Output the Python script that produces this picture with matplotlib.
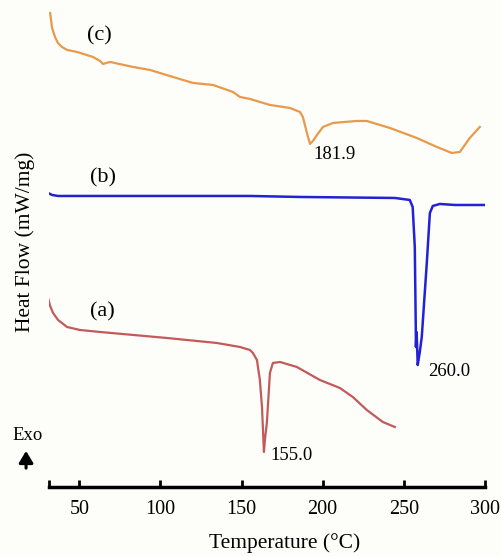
import matplotlib
matplotlib.use("Agg")
import matplotlib.pyplot as plt

plt.rcParams['font.family'] = ['Liberation Serif', 'DejaVu Serif']

# DSC curves, heat flow in arbitrary offset units
temp_c = [32.0, 33.2, 35.0, 36.8, 39.3, 42.4, 48.6, 58.4, 62.8, 64.6, 68.9, 83.1,
          93.6, 107.7, 120.1, 132.4, 144.7, 149.0, 155.2, 167.5, 179.8, 186.0,
          187.8, 190.3, 192.2, 194.0, 196.5, 200.2, 206.4, 221.1, 227.2, 241.4,
          258.0, 270.4, 279.6, 284.6, 290.7, 296.9]
flow_c = [47.4, 45.9, 45.0, 44.4, 44.0, 43.7, 43.5, 43.0, 42.6, 42.3, 42.5, 42.0,
          41.7, 41.0, 40.4, 40.2, 39.5, 39.0, 38.8, 38.2, 37.9, 37.5,
          37.0, 35.4, 34.3, 34.6, 35.2, 36.0, 36.4, 36.6, 36.6, 35.9,
          34.9, 34.0, 33.4, 33.5, 34.9, 36.0]

temp_b = [30.7, 33.2, 36.9, 62.8, 155.2, 186.0, 244.5, 253.7, 255.5, 256.8,
          257.4, 257.5, 257.9, 258.2, 258.6, 259.8, 261.1, 264.2, 266.1, 267.9,
          272.2, 281.5, 300.0]
flow_b = [29.4, 29.2, 29.1, 29.1, 29.1, 29.0, 28.9, 28.7, 28.0, 24.0,
          16.0, 14.0, 15.5, 14.2, 12.2, 13.4, 15.0, 22.4, 27.4, 28.1,
          28.3, 28.2, 28.2]

temp_a = [30.7, 32.0, 33.8, 36.9, 42.4, 50.4, 62.8, 104.0, 134.8, 149.0, 155.2,
          157.0, 159.5, 160.1, 161.3, 162.6, 163.8, 164.4, 165.6, 167.5, 169.3,
          173.7, 184.1, 198.3, 210.6, 218.6, 227.2, 237.1, 244.5]
flow_a = [18.9, 18.1, 17.4, 16.7, 16.0, 15.7, 15.5, 14.9, 14.4, 14.0, 13.7,
          13.4, 12.7, 12.0, 10.7, 8.0, 3.5, 4.7, 6.4, 11.4, 12.4,
          12.5, 12.0, 10.7, 9.9, 9.0, 7.7, 6.5, 6.0]

peak_labels = ['181.9', '260.0', '155.0']
curve_labels = ['(c)', '(b)', '(a)']
xticks = [50, 100, 150, 200, 250, 300]

fig = plt.figure(figsize=(5.01, 5.56), dpi=100)
fig.patch.set_facecolor('#fdfdf9')
ax = fig.add_axes([0.0978, 0.1241, 0.870, 0.876])
ax.set_facecolor('none')

ax.plot(temp_c, flow_c, color='#e89a4a', lw=1.6, solid_joinstyle='round')
ax.plot(temp_b, flow_b, color='#2222d4', lw=1.8, solid_joinstyle='round')
ax.plot(temp_a, flow_a, color='#c25a5c', lw=1.6, solid_joinstyle='round')

# curve labels
ax.text(62.2, 45.1, curve_labels[0], fontsize=16, ha='center', va='center')
ax.text(64.6, 30.9, curve_labels[1], fontsize=16, ha='center', va='center')
ax.text(64.1, 17.5, curve_labels[2], fontsize=16, ha='center', va='center')

# peak temperatures
ax.text(207.5, 33.2, peak_labels[0], fontsize=13.5, ha='center', va='center')
ax.text(277.8, 11.5, peak_labels[1], fontsize=13.5, ha='center', va='center')
ax.text(181.1, 3.1, peak_labels[2], fontsize=13.5, ha='center', va='center')

ax.set_xlim(31.3, 300)
ax.set_ylim(0, 48.7)
ax.set_yticks([])
ax.set_xticks(xticks)
ax.set_xticks([31.3], minor=True)
ax.tick_params(axis='x', which='both', direction='in', length=5, width=2,
               labelsize=14.5, pad=9)

for s in ['top', 'right', 'left']:
    ax.spines[s].set_visible(False)
ax.spines['bottom'].set_linewidth(2.5)
ax.spines['bottom'].set_color('black')

fig.text(0.569, 0.023, 'Temperature (\u00b0C)', fontsize=15.5, ha='center', va='center')
fig.text(0.050, 0.565, 'Heat Flow (mW/mg)', fontsize=15.5, rotation=90,
         ha='center', va='center')

fig.text(0.056, 0.216, 'Exo', fontsize=13.5, ha='center', va='center')
fig.patches.append(matplotlib.patches.FancyArrowPatch(
    (0.052, 0.153), (0.052, 0.194), transform=fig.transFigure,
    arrowstyle='-|>,head_length=0.5,head_width=0.3', mutation_scale=14,
    lw=2.2, color='black'))

fig.savefig('out.png', dpi=100, facecolor=fig.get_facecolor())
